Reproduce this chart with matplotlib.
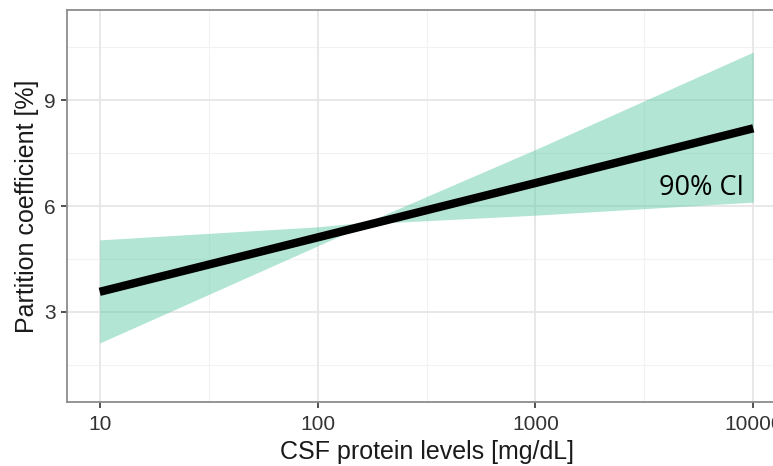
import numpy as np
import matplotlib
matplotlib.use("Agg")
from matplotlib import pyplot as plt

# CSF protein levels [mg/dL] for the fitted line
protein = np.array([10, 100, 1000, 10000])
# partition coefficient [%]
partition = np.array([3.57, 5.11, 6.65, 8.20])

# 90% CI band
ci_x = np.array([10, 100, 170, 1000, 10000])
ci_low = np.array([2.12, 4.87, 5.50, 5.74, 6.11])
ci_high = np.array([5.04, 5.41, 5.55, 7.60, 10.36])

xticks = [10, 100, 1000, 10000]
xticklabels = ["10", "100", "1000", "10000"]
yticks = [3, 6, 9]

plt.rcParams['font.family'] = ['Liberation Sans', 'DejaVu Sans']

W, H = 773, 466
fig = plt.figure(figsize=(W / 100, H / 100), dpi=100)
# panel runs past the right edge of the picture, like the reference crop
ax = fig.add_axes([67 / W, (H - 402) / H, (786 - 67) / W, (402 - 10) / H])

ax.set_xscale('log')
ax.set_xlim(10 ** 0.85, 10 ** 4.15)
ax.set_ylim(0.45, 11.55)

# grid
for v in [10 ** 1.5, 10 ** 2.5, 10 ** 3.5]:
    ax.axvline(v, color='#f2f2f2', lw=0.8, zorder=0)
for v in [1.5, 4.5, 7.5, 10.5]:
    ax.axhline(v, color='#f2f2f2', lw=0.8, zorder=0)
for v in xticks:
    ax.axvline(v, color='#e6e6e6', lw=1.3, zorder=0)
for v in yticks:
    ax.axhline(v, color='#e6e6e6', lw=1.3, zorder=0)

ax.fill_between(ci_x, ci_low, ci_high, color='#66CDAA', alpha=0.5, lw=0, zorder=2)
ax.plot(protein, partition, color='black', lw=6, solid_capstyle='butt', zorder=3)

ax.text(9100, 6.31, "90% CI", family=['Open Sans', 'DejaVu Sans'], fontsize=19.5,
        ha='right', va='baseline', color='black', zorder=4)

ax.set_xticks(xticks)
ax.set_xticklabels(xticklabels)
ax.xaxis.set_minor_locator(matplotlib.ticker.NullLocator())
ax.set_yticks(yticks)
ax.tick_params(axis='both', length=4, width=1.2, color='#333333',
               labelsize=15, labelcolor='#333333')
ax.tick_params(axis='x', pad=5)
ax.tick_params(axis='y', pad=4)

for s in ax.spines.values():
    s.set_color('#8c8c8c')
    s.set_linewidth(1.3)

ax.set_xlabel("CSF protein levels [mg/dL]", fontsize=18, color='#1a1a1a', labelpad=5)
ax.set_ylabel("Partition coefficient [%]", fontsize=18, color='#1a1a1a', labelpad=4)

fig.savefig("out.png", dpi=100)
